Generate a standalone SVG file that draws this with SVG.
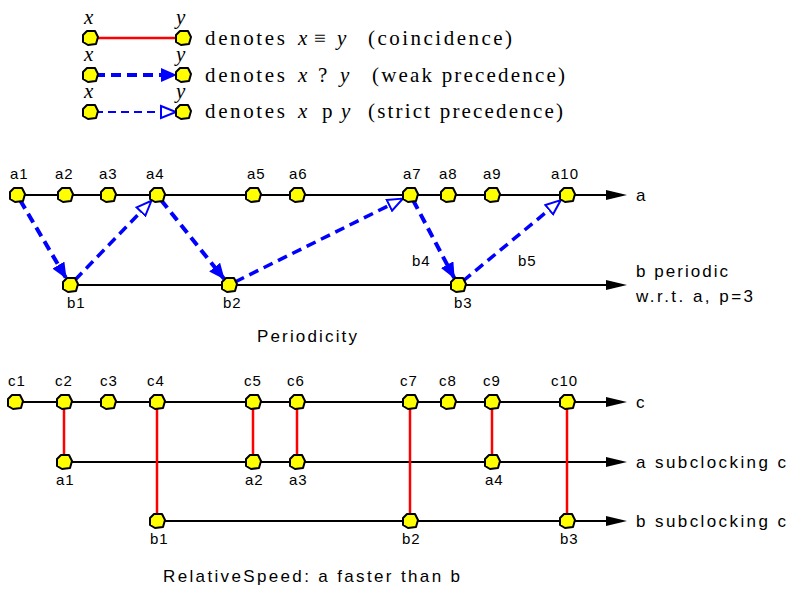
<svg xmlns="http://www.w3.org/2000/svg" width="790" height="591" viewBox="0 0 790 591">
<style>
.lbl{font-family:"Liberation Sans",Arial,sans-serif;font-size:15px;fill:#000;letter-spacing:1px}
.big{font-family:"Liberation Sans",Arial,sans-serif;font-size:17px;fill:#000}
.ser{font-family:"Liberation Serif","Times New Roman",serif;font-size:21px;fill:#000}
.it{font-style:italic}
.tl{stroke:#000;stroke-width:2;fill:none}
.ah{fill:#000}
.red{stroke:#ff0000;stroke-width:2.5;fill:none}
.wk{stroke:#0000ff;stroke-width:4;stroke-dasharray:10,6;fill:none}
.st{stroke:#0000ff;stroke-width:3.5;stroke-dasharray:10,6;fill:none}
.thin{stroke:#0000ff;stroke-width:2;stroke-dasharray:8,5;fill:none}
.nd{fill:#ffff00;stroke:#000;stroke-width:2;stroke-linejoin:round}
</style>
<defs>
<path id="nd" class="nd" d="M-7,-3 L-3,-7 L5,-7 L8,-1 L6,6 L-2,7 L-7,4 Z"/>
<marker id="fill" markerUnits="userSpaceOnUse" markerWidth="16" markerHeight="14" refX="15" refY="7" orient="auto">
<path d="M0,0 L16,7 L0,14 Z" fill="#0000ff"/>
</marker>
<marker id="open" markerUnits="userSpaceOnUse" markerWidth="18" markerHeight="16" refX="16" refY="8" orient="auto">
<path d="M1,2 L16,8 L1,14 Z" fill="#fff" stroke="#0000ff" stroke-width="2"/>
</marker>
</defs>

<g id="legend">
<text class="ser it" x="84" y="24">x</text>
<text class="ser it" x="176" y="24">y</text>
<line class="red" x1="90" y1="38" x2="183" y2="38" stroke-width="1.5"/>
<use href="#nd" x="90" y="38"/>
<use href="#nd" x="183" y="38"/>
<text class="ser" x="205" y="45" textLength="80" lengthAdjust="spacing">denotes</text>
<text class="ser it" x="298" y="45">x</text>
<text class="ser" x="314" y="45">≡</text>
<text class="ser it" x="337" y="45">y</text>
<text class="ser" x="368" y="45" textLength="144" lengthAdjust="spacing">(coincidence)</text>

<text class="ser it" x="84" y="61">x</text>
<text class="ser it" x="176" y="61">y</text>
<line class="wk" x1="95" y1="75" x2="176" y2="75" marker-end="url(#fill)"/>
<use href="#nd" x="90" y="75"/>
<use href="#nd" x="183" y="75"/>
<text class="ser" x="205" y="82" textLength="80" lengthAdjust="spacing">denotes</text>
<text class="ser it" x="298" y="82">x</text>
<text class="ser" x="318" y="82">?</text>
<text class="ser it" x="340" y="82">y</text>
<text class="ser" x="372" y="82" textLength="193" lengthAdjust="spacing">(weak precedence)</text>

<text class="ser it" x="84" y="98">x</text>
<text class="ser it" x="176" y="98">y</text>
<line class="thin" x1="95" y1="112" x2="176" y2="112" marker-end="url(#open)"/>
<use href="#nd" x="90" y="112"/>
<use href="#nd" x="183" y="112"/>
<text class="ser" x="205" y="118" textLength="80" lengthAdjust="spacing">denotes</text>
<text class="ser it" x="298" y="118">x</text>
<text class="ser" x="322" y="118">p</text>
<text class="ser it" x="341" y="118">y</text>
<text class="ser" x="368" y="118" textLength="195" lengthAdjust="spacing">(strict precedence)</text>
</g>

<g id="connectors">
<line class="tl" x1="17" y1="195" x2="607" y2="195"/>
<polygon class="ah" points="606,190 627,195 606,200"/>
<line class="tl" x1="70" y1="285" x2="607" y2="285"/>
<polygon class="ah" points="606,280 627,285 606,290"/>
<line class="tl" x1="15" y1="402" x2="607" y2="402"/>
<polygon class="ah" points="606,397 627,402 606,407"/>
<line class="tl" x1="64" y1="462" x2="607" y2="462"/>
<polygon class="ah" points="606,457 627,462 606,467"/>
<line class="tl" x1="157" y1="521" x2="607" y2="521"/>
<polygon class="ah" points="606,516 627,521 606,526"/>

<line class="wk" x1="20" y1="200" x2="66" y2="278" marker-end="url(#fill)"/>
<line class="st" x1="75" y1="280" x2="151.4" y2="200.8" marker-end="url(#open)"/>
<line class="wk" x1="161" y1="200" x2="224" y2="278.8" marker-end="url(#fill)"/>
<line class="st" x1="235" y1="282" x2="402.8" y2="198.6" marker-end="url(#open)"/>
<line class="wk" x1="413" y1="200" x2="454.2" y2="277.9" marker-end="url(#fill)"/>
<line class="st" x1="463" y1="281" x2="560.8" y2="200.1" marker-end="url(#open)"/>

<line class="red" x1="64" y1="402" x2="64" y2="462"/>
<line class="red" x1="157" y1="402" x2="157" y2="521"/>
<line class="red" x1="253" y1="402" x2="253" y2="462"/>
<line class="red" x1="297" y1="402" x2="297" y2="462"/>
<line class="red" x1="410" y1="402" x2="410" y2="521"/>
<line class="red" x1="492" y1="402" x2="492" y2="462"/>
<line class="red" x1="567" y1="402" x2="567" y2="521"/>
</g>

<g id="clock-a">
<use href="#nd" x="17" y="195"/><use href="#nd" x="65" y="195"/><use href="#nd" x="108" y="195"/><use href="#nd" x="157" y="195"/><use href="#nd" x="253" y="195"/><use href="#nd" x="297" y="195"/><use href="#nd" x="410" y="195"/><use href="#nd" x="448" y="195"/><use href="#nd" x="492" y="195"/><use href="#nd" x="567" y="195"/>
<text class="lbl" x="10" y="179">a1</text><text class="lbl" x="55" y="179">a2</text><text class="lbl" x="99" y="179">a3</text><text class="lbl" x="146" y="179">a4</text><text class="lbl" x="247" y="179">a5</text><text class="lbl" x="289" y="179">a6</text><text class="lbl" x="403" y="179">a7</text><text class="lbl" x="439" y="179">a8</text><text class="lbl" x="483" y="179">a9</text><text class="lbl" x="551" y="179">a10</text>
<text class="big" x="636" y="201">a</text>
</g>

<g id="clock-b">
<use href="#nd" x="70" y="285"/><use href="#nd" x="229" y="285"/><use href="#nd" x="458" y="285"/>
<text class="lbl" x="67" y="308">b1</text><text class="lbl" x="223" y="308">b2</text><text class="lbl" x="454" y="308">b3</text>
<text class="lbl" x="412" y="266">b4</text><text class="lbl" x="518" y="266">b5</text>
<text class="big" x="636" y="277" textLength="92" lengthAdjust="spacing">b  periodic</text>
<text class="big" x="636" y="302" textLength="117" lengthAdjust="spacing">w.r.t. a, p=3</text>
<text class="big" x="257" y="342" textLength="100" lengthAdjust="spacing">Periodicity</text>
</g>

<g id="clock-c">
<use href="#nd" x="15" y="402"/><use href="#nd" x="64" y="402"/><use href="#nd" x="108" y="402"/><use href="#nd" x="157" y="402"/><use href="#nd" x="253" y="402"/><use href="#nd" x="297" y="402"/><use href="#nd" x="410" y="402"/><use href="#nd" x="448" y="402"/><use href="#nd" x="492" y="402"/><use href="#nd" x="567" y="402"/>
<text class="lbl" x="8" y="386">c1</text><text class="lbl" x="55" y="386">c2</text><text class="lbl" x="100" y="386">c3</text><text class="lbl" x="147" y="386">c4</text><text class="lbl" x="244" y="386">c5</text><text class="lbl" x="287" y="386">c6</text><text class="lbl" x="400" y="386">c7</text><text class="lbl" x="439" y="386">c8</text><text class="lbl" x="483" y="386">c9</text><text class="lbl" x="551" y="386">c10</text>
<text class="big" x="636" y="408">c</text>
</g>

<g id="clock-a-sub">
<use href="#nd" x="64" y="462"/><use href="#nd" x="253" y="462"/><use href="#nd" x="297" y="462"/><use href="#nd" x="492" y="462"/>
<text class="lbl" x="56" y="485">a1</text><text class="lbl" x="245" y="485">a2</text><text class="lbl" x="289" y="485">a3</text><text class="lbl" x="485" y="485">a4</text>
<text class="big" x="636" y="468" textLength="150" lengthAdjust="spacing">a  subclocking c</text>
</g>

<g id="clock-b-sub">
<use href="#nd" x="157" y="521"/><use href="#nd" x="410" y="521"/><use href="#nd" x="567" y="521"/>
<text class="lbl" x="150" y="544">b1</text><text class="lbl" x="402" y="544">b2</text><text class="lbl" x="560" y="544">b3</text>
<text class="big" x="636" y="527" textLength="150" lengthAdjust="spacing">b  subclocking c</text>
<text class="big" x="163" y="582" textLength="297" lengthAdjust="spacing">RelativeSpeed: a faster than b</text>
</g>
</svg>
